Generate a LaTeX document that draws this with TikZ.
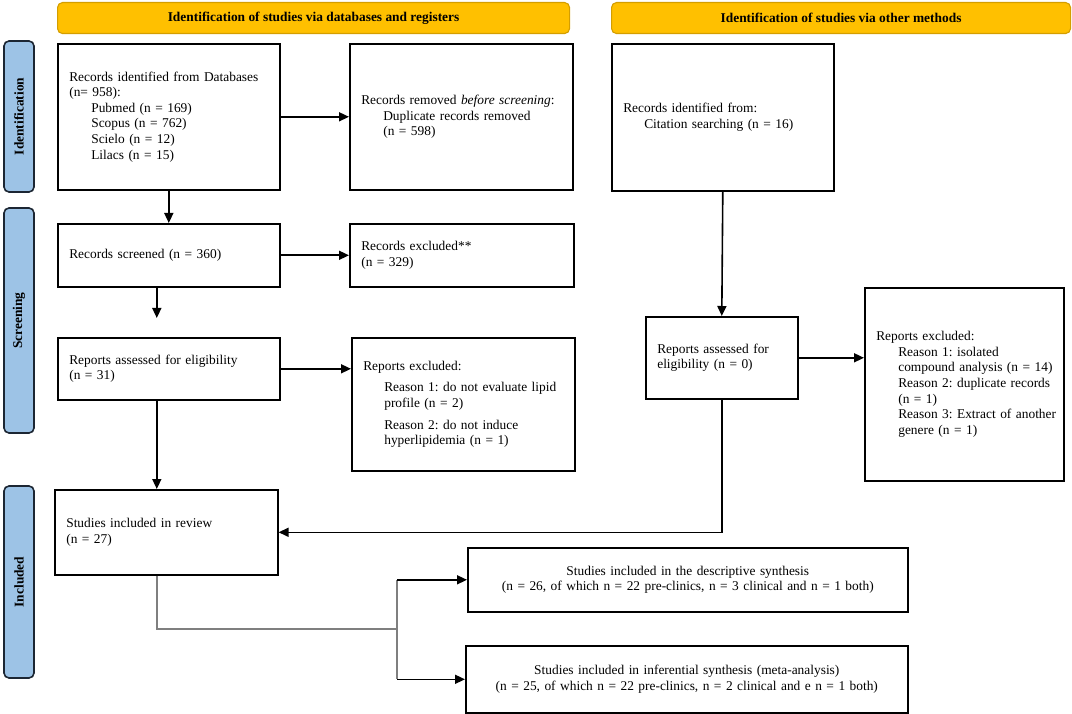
\documentclass[tikz,border=0pt]{standalone}
\usepackage{fontspec}
\setmainfont{Liberation Serif}
\usetikzlibrary{arrows.meta}
\definecolor{hdrfill}{HTML}{FFC000}
\definecolor{hdrdraw}{HTML}{D49E00}
\definecolor{barfill}{HTML}{9DC3E6}
\definecolor{bardraw}{HTML}{1C2633}
\definecolor{gline}{HTML}{7F7F7F}
\newcommand{\fs}{\fontsize{13.4}{15.6}\selectfont\frenchspacing}
\newcommand{\ind}{\hspace*{22pt}}
\tikzset{
  box/.style={draw, line width=1.6pt, rectangle, anchor=north west, align=left,
    inner xsep=11.5pt, inner ysep=0pt, font=\fs},
  cbox/.style={box, align=center, inner xsep=4pt},
  hdr/.style={draw=hdrdraw, fill=hdrfill, line width=1.1pt, rounded corners=5pt,
    anchor=north west, minimum height=31pt, inner sep=0pt, font=\fs\bfseries},
  sidebar/.style={draw=bardraw, fill=barfill, line width=1.6pt, rounded corners=5pt,
    rotate=90, minimum height=30pt, inner sep=0pt, font=\fs\bfseries},
  arr/.style={line width=1.6pt, -{Triangle[length=10pt,width=9pt]}},
  grayline/.style={line width=1.4pt, draw=gline},
}
\begin{document}
\begin{tikzpicture}[x=1pt,y=-1pt]
\useasboundingbox (0,0) rectangle (1072,714);
% headers
\node[hdr, minimum width=512pt] (h1) at (57,2) {Identification of studies via databases and registers};
\node[hdr, minimum width=459pt] (h2) at (611,2) {Identification of studies via other methods};
% side bars
\node[sidebar, minimum width=151pt] (s1) at (19,116.5) {Identification};
\node[sidebar, minimum width=225pt] (s2) at (19,320.5) {Screening};
\node[sidebar, minimum width=192pt] (s3) at (19,582) {Included};
% boxes
\node[box, text width=199pt, minimum height=146pt] (A) at (57,43)
  {Records identified from Databases\\(n= 958):\\\ind Pubmed (n = 169)\\\ind Scopus (n = 762)\\\ind Scielo (n = 12)\\\ind Lilacs (n = 15)};
\node[box, text width=200pt, minimum height=146pt] (B) at (349,43)
  {Records removed \textit{before screening}:\\\ind Duplicate records removed\\\ind (n = 598)};
\node[box, text width=199pt, minimum height=147pt] (C) at (611,43)
  {Records identified from:\\\hspace*{21pt}Citation searching (n = 16)};
\node[box, text width=199pt, minimum height=63pt] (D) at (57,223)
  {Records screened (n = 360)};
\node[box, text width=201pt, minimum height=63pt] (E) at (349,223)
  {Records excluded**\\(n = 329)};
\node[box, text width=199pt, minimum height=62pt] (F) at (57,337)
  {Reports assessed for eligibility\\(n = 31)};
\node[box, text width=200pt, minimum height=133pt] (G) at (351,337)
  {Reports excluded:\\[6pt]\hspace*{21pt}\mbox{Reason 1: do not evaluate lipid}\\\hspace*{21pt}profile (n = 2)\\[6pt]\hspace*{21pt}\mbox{Reason 2: do not induce}\\\hspace*{21pt}hyperlipidemia (n = 1)};
\node[box, text width=200pt, minimum height=85pt] (H) at (54,489)
  {Studies included in review\\(n = 27)};
\node[box, text width=129pt, minimum height=82pt] (I) at (645,316)
  {Reports assessed for\\eligibility (n = 0)};
\node[box, text width=176pt, minimum height=193pt] (J) at (864,287)
  {Reports excluded:\\\ind\mbox{Reason 1: isolated}\\\ind\mbox{compound analysis (n = 14)}\\\ind\mbox{Reason 2: duplicate records}\\\ind\mbox{(n = 1)}\\\ind\mbox{Reason 3: Extract of another}\\\ind\mbox{genere (n = 1)}};
\node[cbox, text width=432pt, minimum height=64pt] (K) at (467,547)
  {Studies included in the descriptive synthesis\\(n = 26, of which n = 22 pre-clinics, n = 3 clinical and n = 1 both)};
\node[cbox, text width=434pt, minimum height=67pt] (L) at (465,645)
  {Studies included in inferential synthesis (meta-analysis)\\(n = 25, of which n = 22 pre-clinics, n = 2 clinical and e n = 1 both)};
% connectors
\draw[arr] (A.east) -- (B.west);
\draw[arr] (A.south) -- (D.north);
\draw[arr] (D.east) -- (E.west);
\draw[arr] ([xshift=-12pt]D.south) -- ([xshift=-12pt,yshift=19pt]D.south |- F.north);
\draw[arr] (F.east) -- (F.east -| G.west);
\draw[arr] ([xshift=-12pt]F.south) -- ([xshift=-12pt]F.south |- H.north);
\draw[arr] (C.south) -- (I.north);
\draw[arr] (I.east) -- (I.east -| J.west);
\draw[arr] (I.south) |- (H.east);
\coordinate (jn) at (397,629);
\draw[grayline] ([xshift=-9.5pt]H.south) |- (jn);
\draw[grayline] (jn |- K.west) -- (jn |- L.west);
\draw[arr] (jn |- K.west) -- (K.west);
\draw[arr] (jn |- L.west) -- (L.west);
\end{tikzpicture}
\end{document}
